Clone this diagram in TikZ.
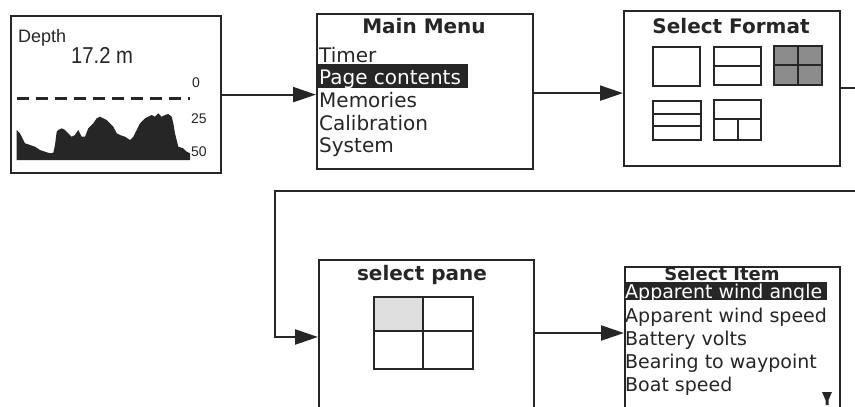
\documentclass[tikz,border=0pt]{standalone}
\usepackage{fontspec}
\setmainfont{DejaVu Sans}
\newfontfamily\arialfont{Liberation Sans}
\usetikzlibrary{arrows.meta,calc}
\definecolor{ink}{HTML}{262626}
\definecolor{shade}{HTML}{8C8C8C}
\definecolor{lightshade}{HTML}{DEDEDE}
\begin{document}
\begin{tikzpicture}[x=1pt,y=-1pt,
  screen/.style={draw=ink, line width=2.2pt, fill=white, inner sep=0pt, anchor=north west},
  flow/.style={draw=ink, line width=2.2pt, -{Triangle[length=23pt,width=15pt]}},
  link/.style={draw=ink, line width=2.2pt},
  menutext/.style={font=\fontsize{20}{20}\selectfont, text=ink, inner sep=0pt, anchor=base west},
  listtext/.style={menutext, font=\fontsize{19}{19}\selectfont},
  selected/.style={text=white},
  heading/.style={font=\bfseries\fontsize{20}{20}\selectfont, text=ink, inner sep=0pt, anchor=base},
  bar/.style={fill=ink, inner sep=0pt, anchor=north west},
  icon/.style={draw=ink, line width=1.5pt},
  depthscale/.style={font=\arialfont\fontsize{14}{14}\selectfont, text=ink, inner sep=0pt, anchor=base west}]
\useasboundingbox (0,0) rectangle (855,407);

% ---- screens ----
\node[screen, minimum width=210pt, minimum height=157pt] (depth) at (10,15) {};
\node[screen, minimum width=216pt, minimum height=155pt] (menu) at (316,13) {};
\node[screen, minimum width=216pt, minimum height=155pt] (format) at (623,10) {};
\node[screen, minimum width=215pt, minimum height=175pt] (pane) at (318,259) {};
\node[screen, minimum width=215pt, minimum height=165pt] (item) at (624,266) {};

% ---- depth display ----
\node[font=\arialfont\fontsize{18}{18}\selectfont, text=ink, inner sep=0pt, anchor=base west] (dlabel) at (18,42) {Depth};
\node[font=\arialfont\fontsize{23}{23}\selectfont, text=ink, inner sep=0pt, anchor=base west, xscale=0.88] (dvalue) at (71,63) {17.2 m};
\node[depthscale] (s0) at (192,87) {0};
\node[depthscale] (s25) at (191,123) {25};
\node[depthscale] (s50) at (191,156) {50};
\draw[ink, line width=3pt, dash pattern=on 12pt off 7pt] (17,98) -- (190,98);
\fill[ink] (16.7,160) -- (16.7,130) -- (20,133.3) -- (25,143.3) -- (30,145) -- (35,146.7)
  -- (40,150) -- (45,151.7) -- (50,153.3) -- (53.3,152.7) -- (55,145) -- (56.7,131.7)
  -- (58.3,130) -- (61.7,128.3) -- (65,130) -- (68.3,133.3) -- (71.7,136.7) -- (75,135)
  -- (78.3,130) -- (80,133.3) -- (81.7,136.7) -- (85,136.7) -- (88.3,128.3) -- (93.3,123.3)
  -- (96.7,118.3) -- (100,116.7) -- (103.3,118.3) -- (106.7,120) -- (110,123.3) -- (113.3,126.7)
  -- (116.7,133.3) -- (120,135) -- (125,136.7) -- (130,140) -- (133.3,136.7) -- (136.7,130)
  -- (140,123.3) -- (145,118.3) -- (148.3,116.7) -- (151.7,115) -- (155,116.7) -- (158.3,113.3)
  -- (161.7,116.7) -- (165,115) -- (168.3,114) -- (171.7,116.7) -- (173.3,123.3) -- (175,133.3)
  -- (178.3,146.7) -- (183.3,148.3) -- (186.7,151.7) -- (190,153.3) -- (190,160) -- cycle;

% ---- main menu ----
\node[heading] (menutitle) at (424,33) {Main Menu};
\node[bar, minimum width=152pt, minimum height=24pt] (menubar) at (316,64) {};
\node[menutext] (m1) at (319,62) {Timer};
\node[menutext, selected] (m2) at (319,84) {Page contents};
\node[menutext] (m3) at (319,107) {Memories};
\node[menutext] (m4) at (319,130) {Calibration};
\node[menutext] (m5) at (319,152) {System};

% ---- format choice ----
\node[heading] (formattitle) at (731,33) {Select Format};
\draw[icon] (653,47) rectangle (700,86);
\draw[icon] (714,47) rectangle (761,85) (714,66) -- (761,66);
\draw[icon, fill=shade] (774,46) rectangle (822,85) (798,46) -- (798,85) (774,65) -- (822,65);
\draw[icon] (653,101) rectangle (701,140) (653,114) -- (701,114) (653,126) -- (701,126);
\draw[icon] (714,100) rectangle (761,140) (714,119) -- (761,119) (738,119) -- (738,140);

% ---- pane choice ----
\node[heading] (panetitle) at (422,280) {select pane};
\fill[lightshade] (374,297) rectangle (423,331);
\draw[icon] (374,297) rectangle (473,369) (423,297) -- (423,369) (374,331) -- (473,331);

% ---- item list ----
\node[heading, font=\bfseries\fontsize{18}{18}\selectfont] (itemtitle) at (722,280) {Select Item};
\node[bar, minimum width=203pt, minimum height=18pt] (itembar) at (624,282) {};
\node[listtext, selected] (i1) at (625,298) {Apparent wind angle};
\node[listtext] (i2) at (625,322) {Apparent wind speed};
\node[listtext] (i3) at (625,345) {Battery volts};
\node[listtext] (i4) at (625,368) {Bearing to waypoint};
\node[listtext] (i5) at (625,391) {Boat speed};
\fill[ink] (822,392) -- (832,392) -- (828.5,400) -- (828.5,405) -- (825.5,405) -- (825.5,400) -- cycle;

% ---- connectors ----
\coordinate (out) at (855,88);
\coordinate (back) at (855,191);
\coordinate (turn) at (275,191);
\draw[flow] (depth.east) -- (depth.east -| menu.west);
\draw[flow] ($(menu.east)+(0,1.5)$) -- ($(menu.east -| format.west)+(0,1.5)$);
\draw[link] (format.east |- out) -- (out);
\draw[flow] (back) -- (turn) |- (pane.west |- 0,337);
\draw[flow] (pane.east |- 0,333) -- (item.west |- 0,333);
\end{tikzpicture}
\end{document}
